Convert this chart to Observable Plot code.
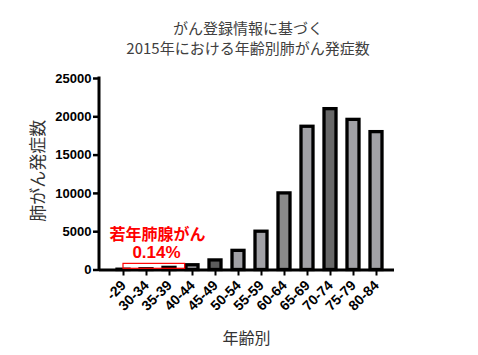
<!DOCTYPE html>
<html>
<head>
<meta charset="utf-8">
<script src="https://cdn.jsdelivr.net/npm/d3@7"></script>
<script src="https://cdn.jsdelivr.net/npm/@observablehq/plot@0.6"></script>
<style>
  body { margin: 0; background: #fff; }
  #wrap { width: 478px; height: 355px; position: relative; overflow: hidden; }
  #title { height: 60px; box-sizing: border-box; padding-top: 18px; padding-left: 18px;
    text-align: center; font-family: "Noto Sans CJK JP", sans-serif; font-size: 15px;
    line-height: 20px; color: #404040; }
  #title div { height: 20px; }
  #chart g[aria-label="x-axis tick label"] { font-size: 14px; font-weight: bold; }
  #chart g[aria-label="y-axis tick label"] { font-size: 13px; font-weight: bold; }
</style>
</head>
<body>
<div id="wrap">
  <div id="title"><div>がん登録情報に基づく</div><div>2015年における年齢別肺がん発症数</div></div>
  <div id="chart"></div>
</div>
<script>
// ---- data ----
const ageGroups = ["-29", "30-34", "35-39", "40-44", "45-49", "50-54", "55-59", "60-64", "65-69", "70-74", "75-79", "80-84"];
const cases = [40, 100, 280, 620, 1250, 2500, 5000, 10000, 18700, 21000, 19600, 18000];
const yTicks = [0, 5000, 10000, 15000, 20000, 25000];
const yLabel = "肺がん発症数";
const xLabel = "年齢別";
const annotGroups = ["-29", "30-34", "35-39"];
const annotLines = ["若年肺腺がん", "0.14%"];
const annotValue = 800;

// ---- styles ----
const fills = {"35-39": "#111111", "45-49": "#5c5c5c", "60-64": "#8a8a8a", "70-74": "#686868"};
const lightFill = "#a1a1a6";

const data = ageGroups.map((g, i) => ({age: g, n: cases[i]}));

const W = 478, H = 295, ML = 99, MR = 84, MT = 18, MB = 85.5;
const step = 23.27;
const pIn = 0.47, pOut = 0.5;
const bw = step * (1 - pIn);
const firstCenter = 121.7;
const r0 = firstCenter - step * pOut - bw / 2;
const r1 = r0 + step * (ageGroups.length - pIn + 2 * pOut);

const bandOf = (s) => typeof s.bandwidth === "function" ? s.bandwidth() : (s.bandwidth || 0);

// custom marks using Plot's scales
function yAxisLine(index, scales, values, dims) {
  const y = scales.y;
  const g = d3.create("svg:g");
  g.append("line")
    .attr("x1", dims.marginLeft).attr("x2", dims.marginLeft)
    .attr("y1", y(yTicks[yTicks.length - 1]) - 1.5).attr("y2", y(0) + 1.5)
    .attr("stroke", "black").attr("stroke-width", 3);
  return g.node();
}

function annotation(index, scales, values, dims) {
  const x = scales.x, y = scales.y;
  const b = bandOf(x);
  const c = (k) => x(k) + b / 2;
  const st = c(ageGroups[1]) - c(ageGroups[0]);
  const xa = c(annotGroups[0]);
  const xb = c(annotGroups[annotGroups.length - 1]) + 0.68 * st;
  const g = d3.create("svg:g");
  g.append("rect")
    .attr("x", xa).attr("y", y(annotValue))
    .attr("width", xb - xa).attr("height", y(0) - 1.2 - y(annotValue))
    .attr("fill", "none").attr("stroke", "#ff0000").attr("stroke-width", 1.2);
  const cx = (c(annotGroups[1]) + c(annotGroups[2])) / 2;
  annotLines.forEach((t, i) => {
    g.append("text")
      .attr("x", cx + (i === 1 ? -1 : 0))
      .attr("y", y(annotValue) - 29 + i * 18)
      .attr("text-anchor", "middle")
      .attr("dominant-baseline", "central")
      .attr("font-family", "'Liberation Sans', 'Noto Sans CJK JP', sans-serif")
      .attr("font-weight", "bold")
      .attr("font-size", i === 1 ? 17 : 16)
      .attr("fill", "#ff0000")
      .text(t);
  });
  return g.node();
}

function axisTitles(index, scales, values, dims) {
  const y = scales.y;
  const g = d3.create("svg:g")
    .attr("font-family", "'Noto Sans CJK JP', sans-serif")
    .attr("font-weight", "normal")
    .attr("fill", "#333");
  const ymid = (y(0) + y(yTicks[yTicks.length - 1])) / 2 - 3;
  g.append("text")
    .attr("transform", `translate(36,${ymid}) rotate(-90)`)
    .attr("text-anchor", "middle").attr("dominant-baseline", "central")
    .attr("font-size", 17).text(yLabel);
  const xmid = (dims.marginLeft + dims.width - dims.marginRight) / 2;
  g.append("text")
    .attr("x", xmid).attr("y", y(0) + 67.5)
    .attr("text-anchor", "middle").attr("dominant-baseline", "central")
    .attr("font-size", 16).text(xLabel);
  return g.node();
}

const chart = Plot.plot({
  width: W, height: H,
  marginLeft: ML, marginRight: MR, marginTop: MT, marginBottom: MB,
  style: {fontFamily: "'Liberation Sans', 'Noto Sans CJK JP', sans-serif", fontSize: "13px", fontWeight: "bold", color: "black", background: "white"},
  x: {domain: ageGroups, range: [r0, r1], paddingInner: pIn, paddingOuter: pOut, axis: null},
  y: {domain: [0, 25000], axis: null},
  color: {type: "identity"},
  marks: [
    Plot.barY(data, {x: "age", y: "n", fill: d => fills[d.age] || lightFill, stroke: "black", strokeWidth: 3.3}),
    Plot.ruleY([0], {stroke: "black", strokeWidth: 3}),
    Plot.axisY(yTicks, {tickSize: 6, tickPadding: 2, strokeWidth: 2.5, tickFormat: d => String(d), label: null, fontWeight: "bold", fontSize: 13}),
    Plot.axisX({tickSize: 6, tickRotate: -45, tickPadding: 7, strokeWidth: 2, label: null, fontWeight: "bold", fontSize: 14}),
    yAxisLine,
    annotation,
    axisTitles
  ]
});
document.getElementById("chart").appendChild(chart);
</script>
</body>
</html>
